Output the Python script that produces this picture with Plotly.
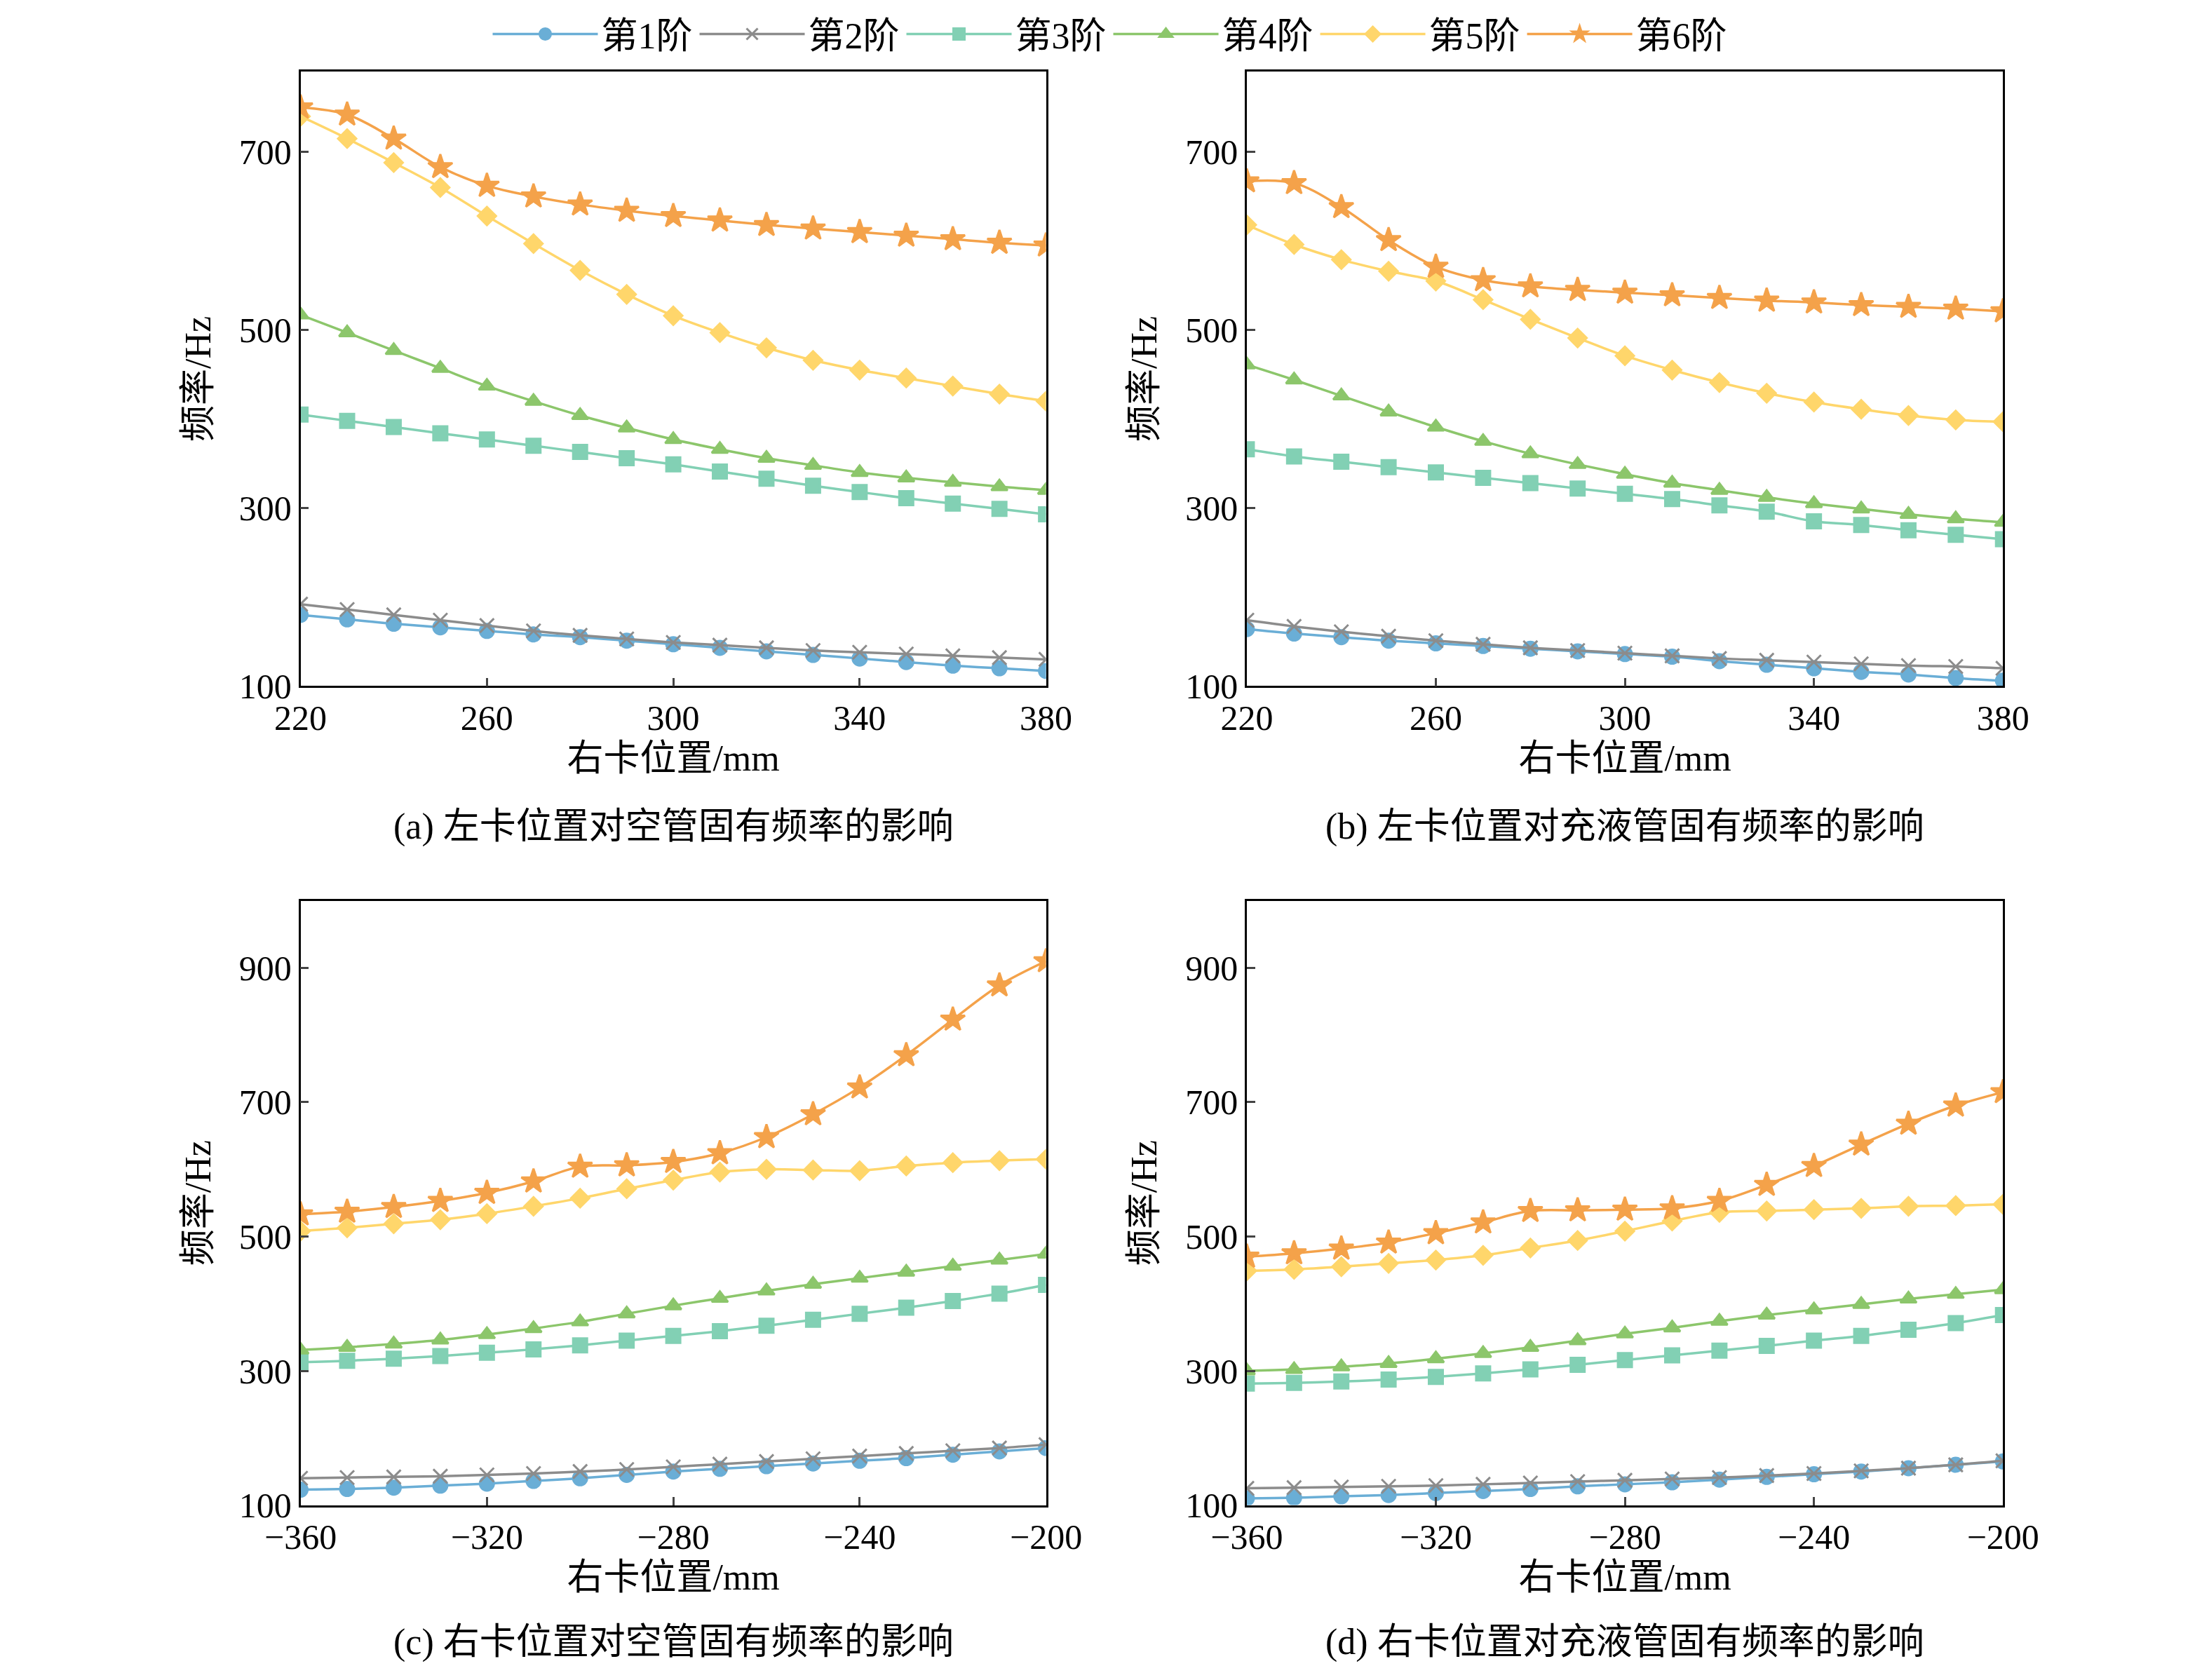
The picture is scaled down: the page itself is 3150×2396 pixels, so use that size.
import plotly.graph_objects as go

x_left = list(range(220, 381, 10))
x_right = list(range(-360, -199, 10))
names = ["第1阶", "第2阶", "第3阶", "第4阶", "第5阶", "第6阶"]
colors = ["#6aaed6", "#8c8c8c", "#82d0b4", "#8cc66b", "#ffd66b", "#f4a24a"]
symbols = ["circle", "x-thin", "square", "triangle-up", "diamond", "star"]

a_vals = [
    [180,175,170,166,162,158,155,151,147,143,139,135,131,127,123,120,117],
    [192,186,180,174,168,162,157,153,149,146,143,140,138,136,134,132,130],
    [405,398,391,384,377,370,363,356,349,341,333,325,318,311,305,299,293],
    [517,497,477,457,437,420,404,390,377,366,356,348,340,334,329,324,320],
    [740,715,688,660,628,597,567,540,516,497,480,466,455,446,437,428,420],
    [750,742,715,683,662,650,641,634,628,623,618,614,610,606,602,598,595],
]
b_vals = [
    [164,159,155,151,148,145,142,139,136,133,128,124,120,116,113,109,106],
    [174,167,161,156,151,147,143,140,137,134,131,129,127,125,123,122,120],
    [366,358,352,346,340,334,328,322,316,310,303,296,285,281,275,270,265],
    [461,444,426,408,391,375,361,349,338,328,320,312,305,299,293,288,284],
    [618,596,579,566,555,534,512,491,471,455,441,429,419,411,404,399,397],
    [667,665,638,601,571,556,549,545,542,539,536,533,531,528,526,524,521],
]
c_vals = [
    [123,124,126,129,132,136,140,145,150,154,158,162,166,170,175,180,185],
    [140,141,142,143,145,147,150,153,157,161,165,169,173,177,181,185,190],
    [313,315,318,322,327,332,338,345,352,359,367,376,385,394,404,415,428],
    [331,335,340,346,354,363,373,385,397,408,419,429,438,447,456,465,474],
    [508,513,519,525,534,545,557,571,584,596,600,599,598,605,610,613,615],
    [533,537,544,553,565,582,604,606,611,624,648,682,722,770,823,874,910],
]
d_vals = [
    [110,111,113,115,118,121,124,128,131,134,138,142,146,150,155,160,165],
    [125,126,127,128,129,131,133,135,137,139,141,144,147,151,155,160,166],
    [281,282,284,287,291,296,302,309,316,323,330,337,345,352,361,371,383],
    [300,302,306,311,318,326,335,345,355,364,374,383,391,399,407,414,421],
    [449,451,455,460,465,472,483,494,508,523,536,538,540,542,545,546,548],
    [470,475,482,491,505,521,538,539,540,542,553,577,605,637,668,695,715],
]
captions = ["(a) 左卡位置对空管固有频率的影响", "(b) 左卡位置对充液管固有频率的影响",
            "(c) 右卡位置对空管固有频率的影响", "(d) 右卡位置对充液管固有频率的影响"]

FONT = "Liberation Serif, Noto Sans CJK SC"
fig = go.Figure()
neg = ["−360", "−320", "−280", "−240", "−200"]
panels = [
    (x_left, a_vals, [0.121, 0.470], [0.593, 0.965], [100, 790], [220, 260, 300, 340, 380], [100, 300, 500, 700], None, 0.508),
    (x_left, b_vals, [0.564, 0.918], [0.593, 0.965], [100, 790], [220, 260, 300, 340, 380], [100, 300, 500, 700], None, 0.508),
    (x_right, c_vals, [0.121, 0.470], [0.097, 0.463], [100, 1000], [-360, -320, -280, -240, -200], [100, 300, 500, 700, 900], neg, 0.014),
    (x_right, d_vals, [0.564, 0.918], [0.097, 0.463], [100, 1000], [-360, -320, -280, -240, -200], [100, 300, 500, 700, 900], neg, 0.014),
]
for i, (xs, vals, xd, yd, yr, xt, yt, xtt, cy) in enumerate(panels):
    sfx = "" if i == 0 else str(i + 1)
    for k in range(6):
        fig.add_trace(go.Scatter(
            x=xs, y=vals[k], name=names[k], showlegend=(i == 0),
            mode="lines+markers", line=dict(color=colors[k], width=3.5, shape="spline"),
            marker=dict(symbol=symbols[k], size=20 if k != 5 else 26, color=colors[k],
                        line=dict(color=colors[k], width=3)),
            xaxis="x" + sfx, yaxis="y" + sfx))
    ax = dict(showline=True, mirror=True, linecolor="black", linewidth=2.5, ticks="inside",
              ticklen=12, tickwidth=2.5, showgrid=False, zeroline=False,
              tickfont=dict(size=50, family=FONT, color="black"))
    fig.layout["xaxis" + sfx] = dict(ax, domain=xd, range=[xs[0], xs[-1]], tickvals=xt,
                                     ticktext=xtt, anchor="y" + sfx,
                                     title=dict(text="右卡位置/mm", font=dict(size=52, family=FONT, color="black"), standoff=12))
    fig.layout["yaxis" + sfx] = dict(ax, domain=yd, range=yr, tickvals=yt, anchor="x" + sfx,
                                     title=dict(text="频率/Hz", font=dict(size=52, family=FONT, color="black"), standoff=24))
    fig.add_annotation(text=captions[i], xref="paper", yref="paper",
                       x=(xd[0] + xd[1]) / 2, y=cy, xanchor="center", yanchor="middle",
                       showarrow=False, font=dict(size=52, family=FONT, color="black"))

fig.update_layout(
    width=3150, height=2396, plot_bgcolor="white", paper_bgcolor="white",
    margin=dict(l=0, r=0, t=0, b=0),
    legend=dict(orientation="h", x=0.5, xanchor="center", y=1.005, yanchor="top",
                font=dict(size=52, family=FONT, color="black"), itemwidth=150,
                tracegroupgap=0),
)
fig.write_html("out.html")
